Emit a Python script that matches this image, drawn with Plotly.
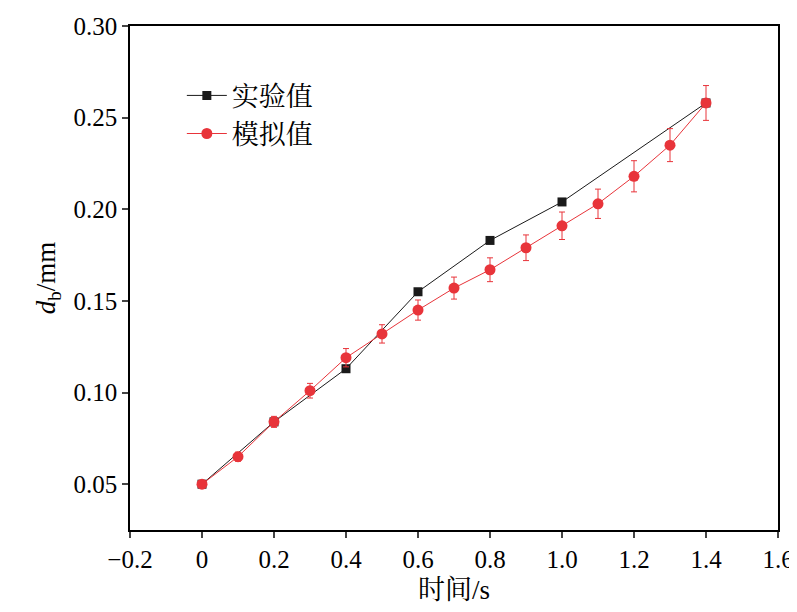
import plotly.graph_objects as go

t_exp = [0, 0.2, 0.4, 0.6, 0.8, 1.0, 1.4]
d_exp = [0.050, 0.084, 0.113, 0.155, 0.183, 0.204, 0.258]

t_sim = [0, 0.1, 0.2, 0.3, 0.4, 0.5, 0.6, 0.7, 0.8, 0.9, 1.0, 1.1, 1.2, 1.3, 1.4]
d_sim = [0.050, 0.065, 0.084, 0.101, 0.119, 0.132, 0.145, 0.157, 0.167, 0.179,
         0.191, 0.203, 0.218, 0.235, 0.258]
err_sim = [0.002, 0.0025, 0.003, 0.004, 0.005, 0.005, 0.0055, 0.006, 0.0065, 0.007,
           0.0075, 0.008, 0.0085, 0.009, 0.0095]

font = "Liberation Serif, Noto Serif CJK SC, Noto Sans CJK SC"

fig = go.Figure()
fig.add_trace(go.Scatter(
    x=t_exp, y=d_exp, name="实验值", mode="lines+markers",
    line=dict(color="#1a1a1a", width=1),
    marker=dict(symbol="square", size=9, color="#1a1a1a")))
fig.add_trace(go.Scatter(
    x=t_sim, y=d_sim, name="模拟值", mode="lines+markers",
    line=dict(color="#e8343a", width=1),
    marker=dict(symbol="circle", size=11, color="#e8343a"),
    error_y=dict(type="data", array=err_sim, color="#e8343a", thickness=1, width=3)))

axis = dict(showline=True, linecolor="black", linewidth=1.5, mirror=True, automargin=False,
            ticks="outside", ticklen=6, tickwidth=1.5, showgrid=False, zeroline=False,
            tickfont=dict(size=25, family=font), title_font=dict(size=27, family=font))

fig.update_layout(
    width=797, height=612, plot_bgcolor="white", paper_bgcolor="white",
    margin=dict(l=122, r=27, t=18, b=90),
    font=dict(family=font, color="black", size=25),
    legend=dict(x=0.08, y=0.91, xanchor="left", yanchor="top", bgcolor="rgba(0,0,0,0)",
                font=dict(size=27, family=font), tracegroupgap=0, itemwidth=40),
    showlegend=True,
)
fig.update_xaxes(axis, range=[-0.2, 1.6], tickvals=[-0.2, 0, 0.2, 0.4, 0.6, 0.8, 1.0, 1.2, 1.4, 1.6],
                 ticktext=["−0.2", "0", "0.2", "0.4", "0.6", "0.8", "1.0", "1.2", "1.4", "1.6"],
                 title_text="时间/s", title_standoff=8)
fig.update_yaxes(axis, range=[0.025, 0.30], tickvals=[0.05, 0.10, 0.15, 0.20, 0.25, 0.30],
                 tickformat=".2f", title_text="<i>d</i><sub>b</sub>/mm", title_standoff=10)

fig.write_html("out.html")
